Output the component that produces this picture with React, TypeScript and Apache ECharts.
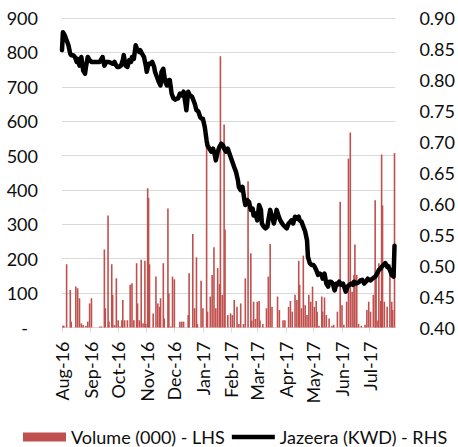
import React, { useEffect, useRef } from "react";
import * as echarts from "echarts";

// Axis range (calendar days) and tick labels
const startDate = "2016-08-01";
const endDate = "2017-07-29";
const monthNames = ["Jan", "Feb", "Mar", "Apr", "May", "Jun", "Jul", "Aug", "Sep", "Oct", "Nov", "Dec"];
const volumeTicks = [0, 100, 200, 300, 400, 500, 600, 700, 800, 900];
const priceTicks = [0.4, 0.45, 0.5, 0.55, 0.6, 0.65, 0.7, 0.75, 0.8, 0.85, 0.9];

const volumeName = "Volume (000) - LHS";
const priceName = "Jazeera (KWD) - RHS";

// Daily traded volume (000 shares)
const volume: [string, number][] = [
  ["2016-08-02", 5], ["2016-08-03", 5], ["2016-08-06", 184], ["2016-08-10", 109], ["2016-08-11", 17],
  ["2016-08-16", 119], ["2016-08-18", 114], ["2016-08-20", 85], ["2016-08-22", 12], ["2016-08-24", 7],
  ["2016-08-27", 5], ["2016-08-29", 17], ["2016-08-31", 70],
  ["2016-09-02", 85], ["2016-09-11", 3], ["2016-09-13", 3], ["2016-09-16", 227], ["2016-09-17", 56],
  ["2016-09-20", 326], ["2016-09-21", 17], ["2016-09-24", 184], ["2016-09-25", 95], ["2016-09-27", 7],
  ["2016-09-29", 143],
  ["2016-10-01", 21], ["2016-10-03", 3], ["2016-10-05", 21], ["2016-10-06", 80], ["2016-10-08", 21],
  ["2016-10-11", 21], ["2016-10-14", 124], ["2016-10-16", 129], ["2016-10-18", 21], ["2016-10-21", 187],
  ["2016-10-22", 70], ["2016-10-24", 21], ["2016-10-26", 197], ["2016-10-28", 12], ["2016-10-30", 194],
  ["2016-10-31", 10],
  ["2016-11-02", 405], ["2016-11-03", 377], ["2016-11-04", 184], ["2016-11-08", 41], ["2016-11-11", 148],
  ["2016-11-13", 70], ["2016-11-15", 60], ["2016-11-16", 85], ["2016-11-19", 187], ["2016-11-20", 26],
  ["2016-11-24", 346], ["2016-11-25", 99], ["2016-11-27", 3], ["2016-11-29", 148],
  ["2016-12-01", 140], ["2016-12-07", 17], ["2016-12-09", 17], ["2016-12-11", 17], ["2016-12-16", 36],
  ["2016-12-17", 158], ["2016-12-21", 272], ["2016-12-23", 56], ["2016-12-25", 204], ["2016-12-26", 10],
  ["2016-12-30", 136],
  ["2017-01-01", 56], ["2017-01-05", 532], ["2017-01-06", 46], ["2017-01-09", 90], ["2017-01-11", 153],
  ["2017-01-13", 233], ["2017-01-15", 56], ["2017-01-17", 173], ["2017-01-19", 126], ["2017-01-20", 789],
  ["2017-01-22", 95], ["2017-01-24", 590], ["2017-01-25", 285], ["2017-01-28", 36], ["2017-01-31", 41],
  ["2017-02-02", 36], ["2017-02-04", 80], ["2017-02-07", 60], ["2017-02-09", 10], ["2017-02-11", 70],
  ["2017-02-14", 10], ["2017-02-16", 143], ["2017-02-19", 425], ["2017-02-22", 216], ["2017-02-23", 20],
  ["2017-02-25", 75], ["2017-02-27", 25],
  ["2017-03-01", 75], ["2017-03-03", 77], ["2017-03-04", 20], ["2017-03-07", 10], ["2017-03-11", 56],
  ["2017-03-13", 148], ["2017-03-15", 243], ["2017-03-17", 60], ["2017-03-23", 90], ["2017-03-25", 51],
  ["2017-03-29", 21], ["2017-03-31", 21],
  ["2017-04-04", 60], ["2017-04-06", 77], ["2017-04-08", 46], ["2017-04-11", 95], ["2017-04-13", 80],
  ["2017-04-15", 194], ["2017-04-16", 124], ["2017-04-18", 56], ["2017-04-20", 209], ["2017-04-22", 65],
  ["2017-04-24", 36], ["2017-04-26", 95], ["2017-04-28", 75], ["2017-04-30", 119],
  ["2017-05-02", 60], ["2017-05-04", 77], ["2017-05-05", 46], ["2017-05-07", 5], ["2017-05-10", 90],
  ["2017-05-11", 46], ["2017-05-13", 87], ["2017-05-15", 36], ["2017-05-18", 26], ["2017-05-21", 5],
  ["2017-05-23", 8], ["2017-05-27", 46], ["2017-05-30", 366],
  ["2017-06-01", 65], ["2017-06-03", 8], ["2017-06-06", 75], ["2017-06-08", 491], ["2017-06-10", 567],
  ["2017-06-12", 104], ["2017-06-14", 153], ["2017-06-15", 241], ["2017-06-17", 153], ["2017-06-19", 10],
  ["2017-06-22", 5], ["2017-06-26", 8], ["2017-06-28", 51], ["2017-06-30", 75],
  ["2017-07-02", 46], ["2017-07-05", 95], ["2017-07-07", 370], ["2017-07-08", 163], ["2017-07-10", 20],
  ["2017-07-11", 187], ["2017-07-13", 77], ["2017-07-14", 503], ["2017-07-15", 355], ["2017-07-17", 75],
  ["2017-07-20", 60], ["2017-07-23", 183], ["2017-07-25", 75], ["2017-07-26", 51], ["2017-07-28", 507],
];

// Closing price (KWD)
const price: [string, number][] = [
  ["2016-08-01", 0.848], ["2016-08-02", 0.877], ["2016-08-04", 0.872], ["2016-08-06", 0.864], ["2016-08-08", 0.856],
  ["2016-08-10", 0.842], ["2016-08-11", 0.84], ["2016-08-13", 0.84], ["2016-08-15", 0.837], ["2016-08-17", 0.829],
  ["2016-08-18", 0.834], ["2016-08-20", 0.823], ["2016-08-22", 0.837], ["2016-08-24", 0.815], ["2016-08-26", 0.81],
  ["2016-08-27", 0.821], ["2016-08-29", 0.837], ["2016-08-31", 0.832],
  ["2016-09-02", 0.829], ["2016-09-05", 0.829], ["2016-09-11", 0.829], ["2016-09-14", 0.837], ["2016-09-16", 0.823],
  ["2016-09-18", 0.829], ["2016-09-21", 0.829], ["2016-09-25", 0.826], ["2016-09-27", 0.829], ["2016-09-29", 0.823],
  ["2016-09-30", 0.821],
  ["2016-10-02", 0.821], ["2016-10-04", 0.823], ["2016-10-06", 0.832], ["2016-10-07", 0.84], ["2016-10-09", 0.823],
  ["2016-10-11", 0.821], ["2016-10-13", 0.832], ["2016-10-15", 0.829], ["2016-10-16", 0.837], ["2016-10-18", 0.834],
  ["2016-10-20", 0.856], ["2016-10-22", 0.848], ["2016-10-24", 0.845], ["2016-10-25", 0.848], ["2016-10-27", 0.842],
  ["2016-10-29", 0.837], ["2016-10-31", 0.823],
  ["2016-11-01", 0.813], ["2016-11-03", 0.826], ["2016-11-05", 0.826], ["2016-11-07", 0.829], ["2016-11-09", 0.821],
  ["2016-11-10", 0.813], ["2016-11-12", 0.805], ["2016-11-14", 0.797], ["2016-11-16", 0.791], ["2016-11-17", 0.813],
  ["2016-11-19", 0.818], ["2016-11-21", 0.797], ["2016-11-23", 0.791], ["2016-11-25", 0.8], ["2016-11-26", 0.8],
  ["2016-11-28", 0.778], ["2016-11-30", 0.77],
  ["2016-12-02", 0.768], ["2016-12-04", 0.77], ["2016-12-05", 0.77], ["2016-12-07", 0.778], ["2016-12-09", 0.775],
  ["2016-12-11", 0.781], ["2016-12-13", 0.762], ["2016-12-14", 0.751], ["2016-12-16", 0.781], ["2016-12-18", 0.775],
  ["2016-12-20", 0.773], ["2016-12-21", 0.77], ["2016-12-23", 0.762], ["2016-12-25", 0.751], ["2016-12-27", 0.749],
  ["2016-12-29", 0.74], ["2016-12-30", 0.738],
  ["2017-01-01", 0.737], ["2017-01-03", 0.724], ["2017-01-05", 0.702], ["2017-01-06", 0.694], ["2017-01-08", 0.689],
  ["2017-01-10", 0.684], ["2017-01-12", 0.689], ["2017-01-14", 0.678], ["2017-01-15", 0.67], ["2017-01-17", 0.684],
  ["2017-01-19", 0.692], ["2017-01-21", 0.697], ["2017-01-23", 0.694], ["2017-01-24", 0.689], ["2017-01-26", 0.684],
  ["2017-01-28", 0.689], ["2017-01-31", 0.676],
  ["2017-02-04", 0.659], ["2017-02-06", 0.651], ["2017-02-08", 0.638], ["2017-02-09", 0.627], ["2017-02-11", 0.622],
  ["2017-02-13", 0.627], ["2017-02-15", 0.606], ["2017-02-16", 0.598], ["2017-02-18", 0.606], ["2017-02-20", 0.603],
  ["2017-02-22", 0.59], ["2017-02-24", 0.592], ["2017-02-25", 0.581], ["2017-02-27", 0.584],
  ["2017-03-01", 0.573], ["2017-03-03", 0.598], ["2017-03-05", 0.59], ["2017-03-06", 0.568], ["2017-03-08", 0.563],
  ["2017-03-10", 0.56], ["2017-03-12", 0.563], ["2017-03-13", 0.573], ["2017-03-15", 0.59], ["2017-03-17", 0.579],
  ["2017-03-19", 0.568], ["2017-03-21", 0.581], ["2017-03-22", 0.59], ["2017-03-24", 0.581], ["2017-03-26", 0.573],
  ["2017-03-28", 0.568], ["2017-03-29", 0.566], ["2017-03-31", 0.563],
  ["2017-04-02", 0.56], ["2017-04-04", 0.568], ["2017-04-06", 0.571], ["2017-04-07", 0.573], ["2017-04-09", 0.568],
  ["2017-04-11", 0.579], ["2017-04-13", 0.576], ["2017-04-15", 0.579], ["2017-04-16", 0.573], ["2017-04-18", 0.571],
  ["2017-04-20", 0.563], ["2017-04-22", 0.555], ["2017-04-24", 0.541], ["2017-04-25", 0.514], ["2017-04-27", 0.504],
  ["2017-04-29", 0.501],
  ["2017-05-01", 0.501], ["2017-05-02", 0.499], ["2017-05-04", 0.493], ["2017-05-06", 0.485], ["2017-05-08", 0.487],
  ["2017-05-10", 0.485], ["2017-05-11", 0.479], ["2017-05-13", 0.487], ["2017-05-15", 0.471], ["2017-05-17", 0.466],
  ["2017-05-18", 0.474], ["2017-05-20", 0.474], ["2017-05-22", 0.471], ["2017-05-24", 0.46], ["2017-05-26", 0.471],
  ["2017-05-27", 0.469], ["2017-05-29", 0.474], ["2017-05-31", 0.469],
  ["2017-06-02", 0.471], ["2017-06-04", 0.463], ["2017-06-05", 0.458], ["2017-06-07", 0.466], ["2017-06-09", 0.469],
  ["2017-06-11", 0.471], ["2017-06-13", 0.469], ["2017-06-14", 0.474], ["2017-06-16", 0.471], ["2017-06-18", 0.472],
  ["2017-06-20", 0.474], ["2017-06-21", 0.476], ["2017-06-23", 0.477], ["2017-06-25", 0.471], ["2017-06-27", 0.474],
  ["2017-06-29", 0.479], ["2017-06-30", 0.477],
  ["2017-07-02", 0.476], ["2017-07-04", 0.479], ["2017-07-06", 0.481], ["2017-07-07", 0.482], ["2017-07-09", 0.487],
  ["2017-07-11", 0.493], ["2017-07-13", 0.495], ["2017-07-14", 0.498], ["2017-07-16", 0.501], ["2017-07-18", 0.504],
  ["2017-07-20", 0.498], ["2017-07-21", 0.499], ["2017-07-23", 0.493], ["2017-07-25", 0.485], ["2017-07-27", 0.482],
  ["2017-07-28", 0.532],
];

function buildCalendar(from: string, to: string): string[] {
  const [y0, m0, d0] = from.split("-").map(Number);
  const [y1, m1, d1] = to.split("-").map(Number);
  const out: string[] = [];
  let t = Date.UTC(y0, m0 - 1, d0);
  const stop = Date.UTC(y1, m1 - 1, d1);
  while (t <= stop) {
    const d = new Date(t);
    const s = `${d.getUTCFullYear()}-${String(d.getUTCMonth() + 1).padStart(2, "0")}-${String(d.getUTCDate()).padStart(2, "0")}`;
    out.push(s);
    t += 86400000;
  }
  return out;
}

function align(days: string[], pairs: [string, number][]): (number | null)[] {
  const map = new Map(pairs);
  return days.map((d) => (map.has(d) ? (map.get(d) as number) : null));
}

const isMonthStart = (_i: number, v: string) => v.endsWith("-01");
const fmtMonth = (v: string) => {
  const [y, m] = v.split("-");
  return `${monthNames[Number(m) - 1]}-${y.slice(2)}`;
};

const FONT = "Lato, 'Open Sans', sans-serif";
const TEXT_COLOR = "#0d0d0d";

export default function App() {
  const ref = useRef<HTMLDivElement>(null);
  useEffect(() => {
    if (!ref.current) return;
    const chart = echarts.init(ref.current, undefined, { renderer: "svg" });
    const days = buildCalendar(startDate, endDate);
    const volData = align(days, volume);
    const priceData = align(days, price);
    chart.setOption({
      animation: false,
      backgroundColor: "#ffffff",
      textStyle: { fontFamily: FONT },
      grid: { left: 62, right: 58, top: 18, bottom: 119.5, containLabel: false },
      legend: {
        left: 18,
        top: 423,
        padding: 5,
        itemWidth: 43,
        itemHeight: 9,
        itemGap: 7,
        textStyle: { fontFamily: FONT, fontSize: 18, color: TEXT_COLOR },
        data: [
          { name: volumeName, icon: "rect" },
          { name: priceName, icon: "path://M0,0 L100,0 L100,10 L0,10 Z" },
        ],
      },
      xAxis: {
        type: "category",
        data: days,
        boundaryGap: false,
        axisLine: { show: true, lineStyle: { color: "#d9d9d9", width: 1 } },
        axisTick: { show: true, interval: isMonthStart, length: 5, lineStyle: { color: "#d9d9d9" } },
        axisLabel: {
          interval: isMonthStart,
          rotate: 90,
          margin: 14,
          formatter: fmtMonth,
          fontFamily: FONT,
          fontSize: 18,
          color: TEXT_COLOR,
        },
        splitLine: { show: false },
      },
      yAxis: [
        {
          type: "value",
          min: volumeTicks[0],
          max: volumeTicks[volumeTicks.length - 1],
          interval: 100,
          axisLine: { show: false },
          axisTick: { show: false },
          splitLine: { show: true, lineStyle: { color: "#d9d9d9", width: 1 } },
          axisLabel: {
            margin: 24,
            fontFamily: FONT,
            fontSize: 18,
            color: TEXT_COLOR,
            formatter: (v: number) => (v === 0 ? "{z|-}" : String(v)),
            rich: { z: { fontFamily: FONT, fontSize: 18, color: TEXT_COLOR, padding: [0, 10, 0, 0] } },
          },
        },
        {
          type: "value",
          min: priceTicks[0],
          max: priceTicks[priceTicks.length - 1],
          interval: 0.05,
          axisLine: { show: false },
          axisTick: { show: false },
          splitLine: { show: false },
          axisLabel: {
            margin: 24,
            fontFamily: FONT,
            fontSize: 18,
            color: TEXT_COLOR,
            formatter: (v: number) => v.toFixed(2),
          },
        },
      ],
      series: [
        {
          name: volumeName,
          type: "bar",
          yAxisIndex: 0,
          data: volData,
          barWidth: 1.6,
          itemStyle: { color: "#C0504D" },
        },
        {
          name: priceName,
          type: "line",
          yAxisIndex: 1,
          data: priceData,
          connectNulls: true,
          showSymbol: false,
          symbol: "none",
          lineStyle: { color: "#000000", width: 4.5, join: "round", cap: "round" },
          itemStyle: { color: "#000000" },
          z: 3,
        },
      ],
    });
    return () => chart.dispose();
  }, []);
  return <div ref={ref} style={{ width: 458, height: 447, position: "absolute", left: 0, top: 0 }} />;
}
